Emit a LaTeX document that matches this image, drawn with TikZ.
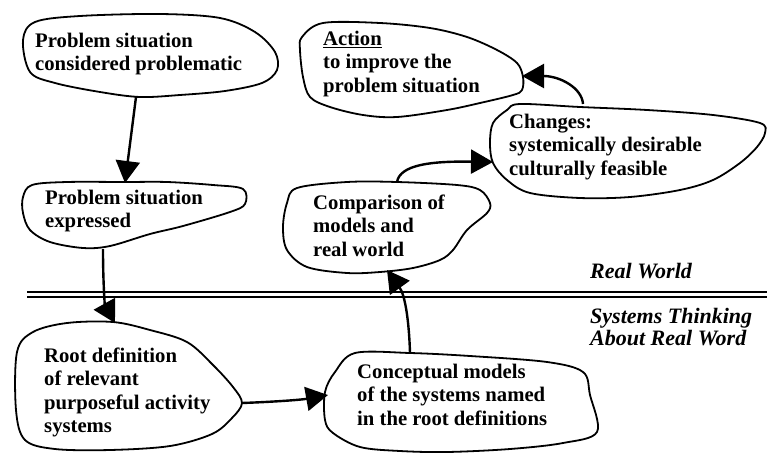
\documentclass[tikz,border=0pt]{standalone}
\usepackage{fontspec}
\setmainfont{Liberation Serif}
\usetikzlibrary{arrows.meta}
\tikzset{
  blob/.style={draw=black, line width=1.8pt, line join=round},
  conn/.style={draw=black, line width=2.4pt, -{Triangle[length=22pt 0 0,width=24pt 0 0]}},
  btext/.style={anchor=north west, align=left, inner sep=0pt, font=\bfseries\fontsize{20.7}{23.5}\selectfont},
  itext/.style={anchor=north west, align=left, inner sep=0pt, font=\bfseries\itshape\fontsize{22}{22.5}\selectfont},
  sepline/.style={draw=black, line width=1.8pt}
}
\begin{document}
\begin{tikzpicture}[x=1pt,y=-1pt]
\useasboundingbox (0,0) rectangle (767,452);

% blobs
\draw[blob] plot[smooth cycle, tension=0.55] coordinates {(23,40) (35,22) (80,16) (160,14) (220,18) (255,32) (275,52) (277,70) (262,83) (225,91) (180,95) (140,97) (100,92) (55,83) (30,72)};
\draw[blob] plot[smooth cycle, tension=0.55] coordinates {(32,185) (67,182) (125,182) (167,182) (213,185) (243,189) (245,204) (230,212) (183,226) (150,234) (110,246) (83,248) (50,242) (30,230) (23,213) (23,197)};
\draw[blob] plot[smooth cycle, tension=0.55] coordinates {(17,352) (33,332) (67,323) (113,322) (150,330) (187,342) (213,365) (233,387) (242,403) (232,418) (212,434) (170,446) (110,450) (55,449) (25,440) (16,410)};
\draw[blob] plot[smooth cycle, tension=0.55] coordinates {(355,353) (410,353) (470,356) (547,362) (583,372) (590,395) (597,432) (563,443) (510,449) (447,452) (400,451) (360,447) (333,433) (325,420) (325,392) (335,372)};
\draw[blob] plot[smooth cycle, tension=0.55] coordinates {(297,188) (347,182) (397,182) (457,185) (480,190) (490,203) (487,213) (467,230) (453,250) (440,260) (413,268) (380,272) (347,273) (307,267) (287,250) (283,227) (287,203)};
\draw[blob] plot[smooth cycle, tension=0.55] coordinates {(507,110) (520,104) (580,107) (647,110) (713,115) (760,123) (765,133) (757,147) (740,163) (713,180) (680,190) (630,197) (580,198) (530,193) (507,180) (493,163) (490,143) (493,123)};
\draw[blob] plot[smooth cycle, tension=0.55] coordinates {(302,37) (323,23) (380,23) (430,28) (467,37) (497,50) (517,63) (523,77) (522,90) (513,95) (480,103) (447,110) (397,117) (363,115) (330,107) (310,97) (303,77) (300,50)};

% separator
\draw[sepline] (27,292) -- (767,292);
\draw[sepline] (27,297) -- (767,297);

% texts
\node[btext] (pb1) at (35,32.7) {Problem situation\\considered problematic};
\node[btext] (pb2) at (45,189.7) {Problem situation\\expressed};
\node[btext] (root) at (44,347.7) {Root definition\\of relevant\\purposeful activity\\systems};
\node[btext] (cm) at (357,363.7) {Conceptual models\\of the systems named\\in the root definitions};
\node[btext] (cmp) at (313,194.7) {Comparison of\\models and\\real world};
\node[btext] (chg) at (509,113.7) {Changes:\\systemically desirable\\culturally feasible};
\node[btext] (act) at (323,30.7) {\underline{Action}\\to improve the\\problem situation};
\node[itext] (rw) at (590,262.8) {Real World};
\node[itext] (st) at (590,307.8) {Systems Thinking\\About Real Word};

% connector endpoints
\coordinate (a1s) at (136,97);   \coordinate (a1e) at (125,183);
\coordinate (a2s) at (103,249);  \coordinate (a2e) at (115,323);
\coordinate (a3s) at (242,403);  \coordinate (a3e) at (328,395);
\coordinate (a4s) at (410,353);  \coordinate (a4e) at (387,270);
\coordinate (a5s) at (397,182);  \coordinate (a5e) at (493,162);
\coordinate (a6s) at (583,104);  \coordinate (a6e) at (522,76);

\draw[conn] (a1s) -- (a1e);
\draw[conn] (a2s) .. controls (103,285) and (105,305) .. (a2e);
\draw[conn] (a3s) .. controls (270,402) and (300,400) .. (a3e);
\draw[conn] (a4s) .. controls (409,320) and (405,295) .. (a4e);
\draw[conn] (a5s) .. controls (400,165) and (430,161) .. (a5e);
\draw[conn] (a6s) .. controls (582,88) and (560,76) .. (a6e);
\end{tikzpicture}
\end{document}
